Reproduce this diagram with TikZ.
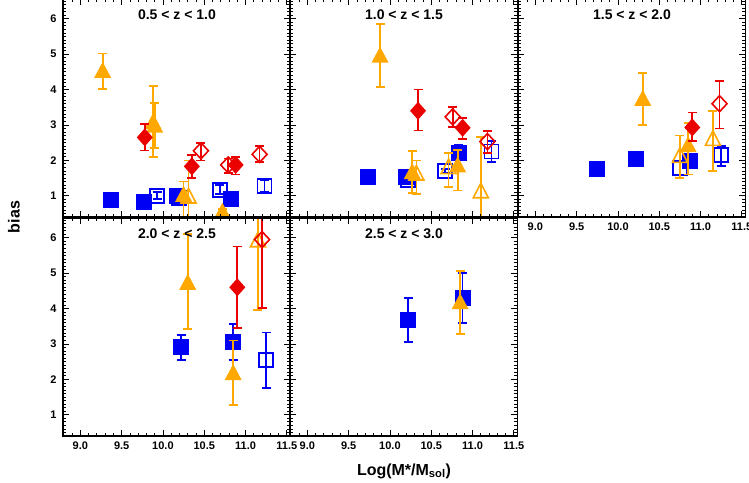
\documentclass[tikz,border=0pt]{standalone}
\usepackage{fontspec}
\setmainfont{Liberation Sans}
\usepackage{tikz}
\tikzset{>=latex}
\definecolor{bblue}{RGB}{0,0,245}
\definecolor{bred}{RGB}{235,0,0}
\definecolor{borange}{RGB}{255,168,0}

\begin{document}
\begin{tikzpicture}[x=1pt,y=1pt,
    data/.style={x=82.6pt,y=35.4pt,shift={(-8.79,-0.40)}},
    frame/.style={line width=1.1pt,black},
    tick/.style={line width=0.8pt,black},
    err/.style={line width=1.7pt},
    tlab/.style={font=\bfseries\fontsize{11}{12}\selectfont},
    title/.style={font=\bfseries\fontsize{14}{15}\selectfont}]
  \useasboundingbox (0,0) rectangle (749,482);

  % limits
  \def\xa{8.79} \def\xb{11.54}
  \def\ya{0.40} \def\yb{6.55}

  % help functions

        % error bar with caps
  \def\ebar(#1,#2,#3,#4){
    \draw[err,#4] (#1,#2) -- (#1,#3)
      (#1,#2) ++(-4.5pt,0) -- ++(9pt,0)
      (#1,#3) ++(-4.5pt,0) -- ++(9pt,0);}
        % markers: (x, y, low, high, colour)
  \def\sqF(#1,#2,#3,#4,#5){\ebar(#1,#3,#4,#5)
    \fill[#5] (#1,#2) ++(-8pt,-8pt) rectangle ++(16pt,16pt);}
  \def\sqO(#1,#2,#3,#4,#5){\ebar(#1,#3,#4,#5)
    \draw[#5,line width=1.6pt] (#1,#2) ++(-7pt,-7pt) rectangle ++(14pt,14pt);}
  \def\trF(#1,#2,#3,#4,#5){\ebar(#1,#3,#4,#5)
    \fill[#5] (#1,#2) ++(0,10pt) -- ++(-8.5pt,-16pt) -- ++(17pt,0) -- cycle;}
  \def\trO(#1,#2,#3,#4,#5){\ebar(#1,#3,#4,#5)
    \draw[#5,line width=1.6pt] (#1,#2) ++(0,9pt) -- ++(-7.5pt,-14.5pt) -- ++(15pt,0) -- cycle;}
  \def\diF(#1,#2,#3,#4,#5){\ebar(#1,#3,#4,#5)
    \fill[#5] (#1,#2) ++(0,9pt) -- ++(8pt,-9pt) -- ++(-8pt,-9pt) -- ++(-8pt,9pt) -- cycle;}
  \def\diO(#1,#2,#3,#4,#5){\ebar(#1,#3,#4,#5)
    \draw[#5,line width=1.6pt] (#1,#2) ++(0,8pt) -- ++(7.5pt,-8pt) -- ++(-7.5pt,-8pt) -- ++(-7.5pt,8pt) -- cycle;}

        % frame and ticks of one panel
  \def\frameticks{
    \draw[frame] (\xa,\ya) rectangle (\xb,\yb);
    \foreach \i in {88,...,115}{
      \pgfmathsetmacro\t{\i/10}
      \pgfmathtruncatemacro\m{ifthenelse(mod(\i,5)==0,6,3)}
      \draw[tick] (\t,\ya) -- ++(0,\m pt);
      \draw[tick] (\t,\yb) -- ++(0,-\m pt);}
    \foreach \i in {5,...,65}{
      \pgfmathsetmacro\t{\i/10}
      \pgfmathtruncatemacro\m{ifthenelse(mod(\i,10)==0,6,3)}
      \draw[tick] (\xa,\t) -- ++(\m pt,0);
      \draw[tick] (\xb,\t) -- ++(-\m pt,0);}}
  \def\xlabels(#1){\foreach \v [count=\k] in {9.0,9.5,10.0,10.5,11.0,11.5}
      \node[tlab,below=2pt] (#1x\k) at (\v,\ya) {\v};}
  \def\ylabels(#1){\foreach \v in {1,...,6}
      \node[tlab,left=3pt] (#1y\v) at (\xa,\v) {\v};}

  % PANEL 1
  \begin{scope}[xshift=63pt,yshift=265pt,data]
    \begin{scope}
      \clip (\xa,\ya) rectangle (\xb,\yb);
      \sqF(9.37,0.87,0.87,0.87,bblue)
      \sqF(9.77,0.82,0.82,0.82,bblue)
      \sqO(9.93,1.0,0.9,1.1,bblue)
      \sqO(10.17,1.0,0.9,1.1,bblue)
      \sqF(10.2,0.95,0.88,1.02,bblue)
      \sqO(10.69,1.17,1.05,1.3,bblue)
      \sqF(10.82,0.92,0.8,1.05,bblue)
      \sqO(11.23,1.28,1.12,1.45,bblue)
      \trF(9.27,4.5,4.02,5.02,borange)
      \trF(9.88,3.05,2.1,4.1,borange)
      \trF(9.9,2.95,2.35,3.62,borange)
      \trF(10.25,1.0,0.3,1.4,borange)
      \trO(10.31,0.95,0.3,2.0,borange)
      \trF(10.72,0.52,0.4,0.62,borange)
      \diF(9.78,2.65,2.28,3.02,bred)
      \diF(10.35,1.83,1.5,2.15,bred)
      \diF(10.88,1.87,1.6,2.1,bred)
      \diO(10.46,2.27,2.0,2.5,bred)
      \diO(10.79,1.87,1.65,2.05,bred)
      \diO(11.17,2.17,1.95,2.4,bred)
    \end{scope}
    \frameticks
    \ylabels(a)
    \node[title] (t1) at (10.17,6.12) {0.5 < z < 1.0};
  \end{scope}

  % PANEL 2
  \begin{scope}[xshift=290pt,yshift=265pt,data]
    \begin{scope}
      \clip (\xa,\ya) rectangle (\xb,\yb);
      \sqF(9.73,1.54,1.54,1.54,bblue)
      \sqO(10.22,1.45,1.4,1.5,bblue)
      \sqF(10.2,1.53,1.45,1.6,bblue)
      \sqO(10.67,1.7,1.65,1.75,bblue)
      \sqF(10.83,2.2,2.0,2.45,bblue)
      \sqO(11.23,2.25,1.95,2.55,bblue)
      \trF(9.88,4.93,4.08,5.86,borange)
      \trF(10.27,1.64,1.08,2.27,borange)
      \trO(10.32,1.6,1.05,2.0,borange)
      \trO(10.71,1.78,1.25,2.2,borange)
      \trF(10.82,1.83,1.15,2.3,borange)
      \trO(11.1,1.1,0.4,2.65,borange)
      \diF(10.34,3.4,2.84,4.0,bred)
      \diO(10.76,3.23,2.95,3.5,bred)
      \diF(10.88,2.92,2.6,3.2,bred)
      \diO(11.18,2.53,2.2,2.83,bred)
    \end{scope}
    \frameticks
    \node[title] (t2) at (10.17,6.12) {1.0 < z < 1.5};
  \end{scope}

  % PANEL 3
  \begin{scope}[xshift=518pt,yshift=265pt,data]
    \begin{scope}
      \clip (\xa,\ya) rectangle (\xb,\yb);
      \sqF(9.75,1.76,1.76,1.76,bblue)
      \sqF(10.22,2.04,1.95,2.12,bblue)
      \sqO(10.75,1.78,1.6,1.95,bblue)
      \sqF(10.87,1.97,1.85,2.1,bblue)
      \sqO(11.25,2.15,1.85,2.4,bblue)
      \trF(10.3,3.71,3.0,4.47,borange)
      \trO(10.75,2.1,1.5,2.7,borange)
      \trF(10.85,2.4,1.6,3.05,borange)
      \trO(11.15,2.58,1.7,3.4,borange)
      \diF(10.9,2.93,2.55,3.35,bred)
      \diO(11.23,3.6,2.9,4.25,bred)
    \end{scope}
    \frameticks
    \xlabels(c)
    \node[title] (t3) at (10.17,6.12) {1.5 < z < 2.0};
  \end{scope}

  % PANEL 4
  \begin{scope}[xshift=63pt,yshift=46pt,data]
    \begin{scope}
      \clip (\xa,\ya) rectangle (\xb,\yb);
      \sqF(10.22,2.9,2.55,3.25,bblue)
      \sqF(10.85,3.05,2.55,3.57,bblue)
      \sqO(11.25,2.55,1.75,3.32,bblue)
      \trF(10.3,4.7,3.42,6.1,borange)
      \trF(10.85,2.15,1.28,3.1,borange)
      \trO(11.15,5.9,3.95,6.6,borange)
      \diF(10.9,4.6,3.45,5.75,bred)
      \diO(11.2,5.95,4.02,6.6,bred)
    \end{scope}
    \frameticks
    \xlabels(d)
    \ylabels(d)
    \node[title] (t4) at (10.17,6.12) {2.0 < z < 2.5};
  \end{scope}

  % PANEL 5
  \begin{scope}[xshift=290pt,yshift=46pt,data]
    \begin{scope}
      \clip (\xa,\ya) rectangle (\xb,\yb);
      \sqF(10.22,3.68,3.05,4.3,bblue)
      \sqF(10.88,4.3,3.6,5.0,bblue)
      \trF(10.85,4.15,3.28,5.07,borange)
    \end{scope}
    \frameticks
    \xlabels(e)
    \node[title] (t5) at (10.17,6.12) {2.5 < z < 3.0};
  \end{scope}

  % AXIS TITLES
  \node[title,font=\bfseries\fontsize{16}{17}\selectfont,rotate=90] (bias) at (14,265) {bias};
  \node[title,font=\bfseries\fontsize{16}{17}\selectfont] (xtitle) at (404,11) {Log(M*/M\textsubscript{sol})};
\end{tikzpicture}
\end{document}
